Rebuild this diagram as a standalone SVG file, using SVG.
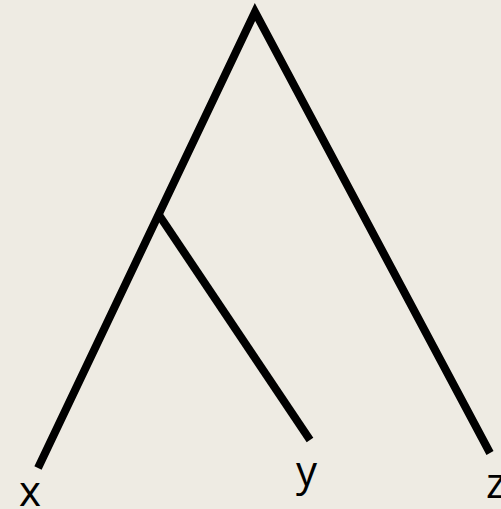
<svg xmlns="http://www.w3.org/2000/svg" width="501" height="509" viewBox="0 0 501 509">
<style>
.edge{stroke:#000;stroke-width:8;fill:none;stroke-linecap:butt;stroke-linejoin:miter}
.lbl{font-family:"Open Sans","DejaVu Sans",sans-serif;font-size:42px;fill:#000}
</style>
<rect width="501" height="509" fill="#EEEBE3"/>
<g id="connectors">
<path class="edge" d="M38,468 L255,12 L490,453"/>
<path class="edge" d="M159,215 L310,440"/>
</g>
<g id="node-x"><text class="lbl" x="19" y="506">x</text></g>
<g id="node-y"><text class="lbl" x="296" y="486">y</text></g>
<g id="node-z"><text class="lbl" x="486" y="498">z</text></g>
</svg>
